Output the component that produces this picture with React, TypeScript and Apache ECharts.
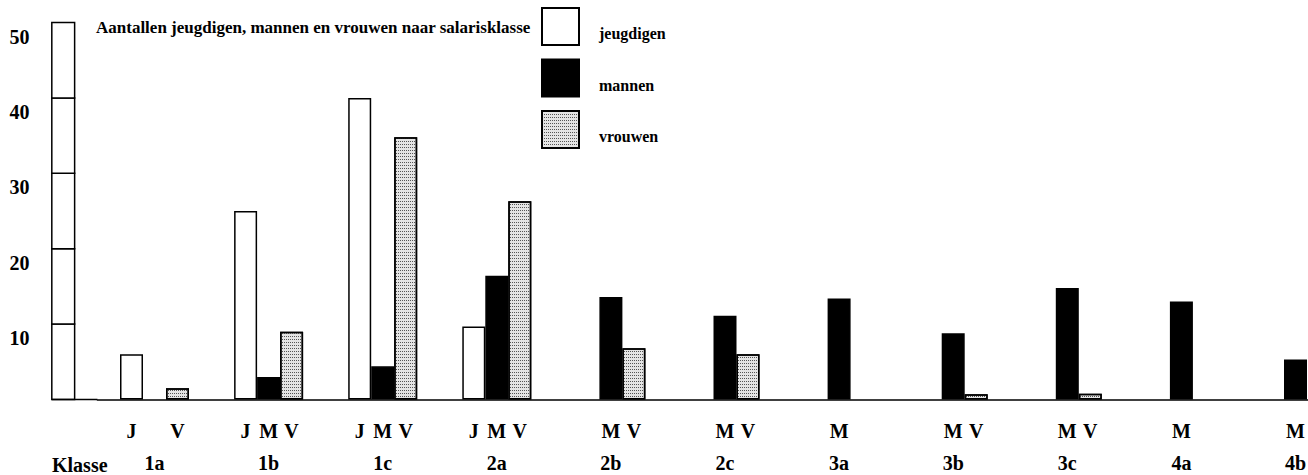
import { useEffect, useRef } from 'react';
import * as echarts from 'echarts';

const FONT = '"Liberation Serif", "Times New Roman", serif';

// Categories (salary classes)
const classes = ['1a', '1b', '1c', '2a', '2b', '2c', '3a', '3b', '3c', '4a', '4b'];
// Series values (counts)
const jeugdigen: (number | null)[] = [6, 25, 40, 9.7, null, null, null, null, null, null, null];
const mannen: (number | null)[] = [null, 3, 4.4, 16.4, 13.6, 11.1, 13.4, 8.8, 14.8, 13, 5.3];
const vrouwen: (number | null)[] = [1.5, 9, 34.8, 26.3, 6.8, 6, null, 0.7, 0.75, null, null];
// Letters under bars
const seriesLetters = ['J', 'M', 'V'];
const seriesNames = ['jeugdigen', 'mannen', 'vrouwen'];
// Y tick labels and ruler steps
const yTickLabels = [10, 20, 30, 40, 50];
const rulerSteps = [0, 10, 20, 30, 40, 50];

export default function App() {
  const ref = useRef<HTMLDivElement>(null);

  useEffect(() => {
    const chart = echarts.init(ref.current!, null, { renderer: 'svg' });
    const allSeries = [jeugdigen, mannen, vrouwen];

    const rulerData = rulerSteps.slice(0, -1).map((lo, i) => [0, lo, rulerSteps[i + 1]]);

    const textBase = { fontFamily: FONT, fontWeight: 'bold' as const, fontSize: 20, color: '#000' };

    const option: any = {
      animation: false,
      backgroundColor: '#fff',
      title: [
        {
          text: 'Aantallen jeugdigen, mannen en vrouwen naar salarisklasse',
          left: 96,
          top: 18,
          padding: 0,
          textStyle: { ...textBase, fontSize: 17, lineHeight: 18 },
        },
        {
          text: 'Klasse',
          left: 52,
          top: 455,
          padding: 0,
          textStyle: { ...textBase, lineHeight: 20 },
        },
      ],
      legend: {
        data: seriesNames,
        orient: 'vertical',
        left: 541,
        top: 7,
        padding: 0,
        itemWidth: 37,
        itemHeight: 37,
        itemGap: 12.5,
        icon: 'rect',
        selectedMode: false,
        formatter: (name: string) => `{a|${name}}`,
        textStyle: {
          ...textBase,
          fontSize: 16,
          rich: {
            a: { ...textBase, fontSize: 16, lineHeight: 16, padding: [14, 0, 0, 15] },
          },
        },
      },
      grid: {
        left: 97.45,
        right: -44.55,
        top: 7.5,
        bottom: 75.5,
        containLabel: false,
        outerBoundsMode: 'none',
      },
      xAxis: {
        type: 'category',
        data: classes,
        axisLine: { show: true, lineStyle: { color: '#000', width: 1.5 } },
        axisTick: { show: false },
        splitLine: { show: false },
        axisLabel: {
          interval: 0,
          margin: 15.5,
          formatter: (_v: string, idx: number) => {
            const letters = seriesLetters
              .map((l, s) => (allSeries[s][idx] != null ? `{b|${l}}` : '{b| }'))
              .join('');
            return `${letters}\n{k|${classes[idx]}}`;
          },
          rich: {
            b: { ...textBase, width: 23, align: 'center', lineHeight: 32 },
            k: { ...textBase, lineHeight: 32, align: 'center' },
          },
        },
      },
      yAxis: {
        type: 'value',
        min: 0,
        max: 52,
        interval: 10,
        axisLine: { show: false },
        axisTick: { show: false },
        splitLine: { show: false },
        axisLabel: {
          showMaxLabel: false,
          showMinLabel: false,
          margin: 68,
          verticalAlign: 'top',
          padding: [4, 0, 0, 0],
          ...textBase,
          lineHeight: 20,
          formatter: (v: number) => (yTickLabels.includes(v) ? String(v) : ''),
        },
      },
      series: [
        {
          name: 'jeugdigen',
          type: 'bar',
          data: jeugdigen,
          barWidth: 23,
          barGap: '0%',
          itemStyle: { color: '#ffffff', borderColor: '#000', borderWidth: 1.5 },
        },
        {
          name: 'mannen',
          type: 'bar',
          data: mannen,
          barWidth: 23,
          barGap: '0%',
          itemStyle: { color: '#000000', borderColor: '#000', borderWidth: 1.5 },
        },
        {
          name: 'vrouwen',
          type: 'bar',
          data: vrouwen,
          barWidth: 23,
          barGap: '0%',
          itemStyle: {
            color: '#e4e4e4',
            borderColor: '#000',
            borderWidth: 1.5,
            decal: {
              symbol: 'rect',
              symbolSize: 1,
              dashArrayX: [1, 1],
              dashArrayY: [1, 2],
              color: '#555',
              rotation: 0,
            },
          },
        },
        {
          name: 'ruler',
          type: 'custom',
          clip: false,
          silent: true,
          encode: { x: 0, y: [1, 2] },
          data: rulerData,
          renderItem: (params: any, api: any) => {
            const cat = api.value(0);
            const lo = api.value(1);
            const hi = api.value(2);
            const base = api.coord([cat, lo]);
            const top = api.coord([cat, hi]);
            const band = api.size([1, 0])[0];
            const w = band * 0.2;
            const cx = base[0] - band * 0.8;
            const rect = {
              type: 'rect',
              shape: { x: cx - w / 2, y: top[1], width: w, height: base[1] - top[1] },
              style: { fill: '#fff', stroke: '#000', lineWidth: 1.5 },
            };
            if (lo === 0) {
              return {
                type: 'group',
                children: [
                  rect,
                  {
                    type: 'line',
                    shape: { x1: cx - w / 2, y1: base[1], x2: params.coordSys.x, y2: base[1] },
                    style: { stroke: '#000', lineWidth: 1.5 },
                  },
                ],
              };
            }
            return rect;
          },
        },
      ],
    };

    chart.setOption(option);
    return () => chart.dispose();
  }, []);

  return (
    <div
      ref={ref}
      style={{ position: 'fixed', left: 0, top: 0, width: 1308, height: 475, background: '#fff' }}
    />
  );
}
